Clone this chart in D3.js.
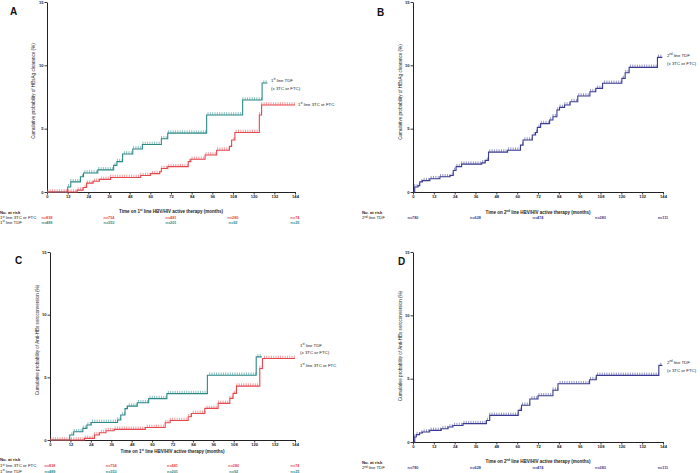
<!DOCTYPE html>
<html>
<head>
<meta charset="utf-8">
<script src="https://cdn.jsdelivr.net/npm/d3@7"></script>
<style>
body { margin: 0; background: #fff; }
svg { display: block; font-family: "Liberation Sans", Arial, sans-serif; }
</style>
</head>
<body>
<svg id="chart" width="700" height="473"></svg>
<script>
// axis ticks and number-at-risk columns
const monthTicks = [0, 12, 24, 36, 48, 60, 72, 84, 96, 108, 120, 132, 144];
const pctTicks = [0, 5, 10, 15];
const riskMonths = [0, 36, 72, 108, 144];

// A: HBsAg clearance, 1st line
const aTdfT = [0, 12, 13.8, 19.4, 21.2, 29.5, 38.7, 40.6, 43.9, 49.8, 55.4, 66.4, 70.1, 92.7, 113.6, 124.9, 128];
const aTdfP = [0, 0.4, 0.8, 1.2, 1.5, 1.75, 2.1, 2.4, 3.0, 3.4, 3.75, 4.2, 4.65, 6.08, 7.26, 8.6, 8.6];
const a3tcT = [0, 17.5, 21, 23, 26.8, 30.4, 36.9, 54.4, 60, 65.5, 66.4, 70.1, 82, 83.5, 91.8, 98.5, 105.9, 107.2, 109.1, 123.3, 124.6, 144];
const a3tcP = [0, 0.15, 0.35, 0.7, 0.85, 1.0, 1.15, 1.3, 1.45, 1.6, 1.85, 2.0, 2.4, 2.58, 2.92, 3.3, 3.6, 4.1, 4.7, 6.08, 6.87, 6.87];

// B: HBsAg clearance, 2nd line TDF
const bTdfT = [0, 1, 2.9, 3.9, 5.4, 9.7, 15.5, 21.3, 23.2, 24.8, 28, 39.6, 41.6, 43.5, 54.5, 61.9, 63.4, 68.7, 70.6, 71.6, 73.5, 78.7, 80.6, 82.9, 84.4, 87.3, 90.5, 94.9, 101.9, 105.3, 109.2, 120.3, 122.2, 124.5, 140.8, 143.6];
const bTdfP = [0, 0.4, 0.5, 0.8, 0.9, 1.05, 1.2, 1.3, 1.7, 2.0, 2.2, 2.3, 2.5, 3.15, 3.3, 3.7, 4.1, 4.5, 4.7, 5.1, 5.4, 5.68, 5.94, 6.47, 6.68, 6.87, 7.13, 7.58, 7.92, 8.18, 8.58, 8.97, 9.42, 9.84, 10.63, 10.63];

// C: anti-HBs seroconversion, 1st line
const cTdfT = [0, 11.6, 13.9, 19.3, 21.7, 24.2, 39.7, 41.6, 44.1, 45.5, 51.3, 58, 68.7, 92.5, 121.2, 124.5];
const cTdfP = [0, 0.4, 0.66, 0.93, 1.2, 1.4, 1.6, 2.0, 2.5, 2.7, 2.97, 3.3, 3.7, 5.17, 6.63, 6.63];
const c3tcT = [0, 20.3, 26.1, 29, 32.9, 37.7, 56, 67.7, 70.6, 81.2, 83.1, 91, 98.8, 105.7, 107.6, 109.6, 123.3, 124.9, 144];
const c3tcP = [0, 0.13, 0.4, 0.58, 0.74, 0.85, 1.0, 1.38, 1.55, 1.86, 2.12, 2.52, 2.92, 3.32, 3.72, 4.3, 5.7, 6.5, 6.5];

// D: anti-HBs seroconversion, 2nd line TDF
const dTdfT = [0, 1, 1.9, 3.8, 5.4, 9.6, 16.3, 20.2, 23, 28.8, 42.3, 44.2, 60.6, 62.5, 67.3, 72, 80.6, 83.5, 101.7, 105.6, 141.6, 143.6];
const dTdfP = [0, 0.39, 0.58, 0.71, 0.79, 0.92, 1.05, 1.18, 1.3, 1.45, 1.7, 2.1, 2.5, 2.9, 3.4, 3.65, 4.08, 4.6, 4.92, 5.26, 6.05, 6.05];

// censored spans (months) where tick marks sit along each curve
const aTdfCens = [[12.5, 128]];
const a3tcCens = [[0.5, 144]];
const bTdfCens = [[1, 143.6]];
const cTdfCens = [[11.5, 124.5]];
const c3tcCens = [[0.5, 144]];
const dTdfCens = [[1, 143.6]];
const censGap = 1.35;

// number at risk
const riskA3tc = ["n=838", "n=754", "n=481", "n=280", "n=74"];
const riskATdf = ["n=489", "n=353", "n=201", "n=92", "n=25"];
const riskB = ["n=780", "n=628", "n=474", "n=283", "n=111"];
const riskC3tc = ["n=838", "n=754", "n=481", "n=280", "n=74"];
const riskCTdf = ["n=489", "n=353", "n=201", "n=92", "n=25"];
const riskD = ["n=780", "n=628", "n=474", "n=283", "n=111"];

const RED = "#e8474e", TEAL = "#2b8a87", NAVY = "#3b3b94", INK = "#222";

const panels = [
    {
        letter: "A", lx: 10, ly: 15,
        left: 47, right: 295, top: 2, bottom: 192,
        yTitle: "Cumulative probability of HBsAg clearance (%)", ytx: 33, yty: 91,
        xTitle: "Time on 1{st} line HBV/HIV active therapy (months)", xty: 211,
        series: [
            {t: aTdfT, p: aTdfP, cens: aTdfCens, color: TEAL, label: ["1{st} line TDF", "(± 3TC or FTC)"], lbx: 271, lby: [80, 88]},
            {t: a3tcT, p: a3tcP, cens: a3tcCens, color: RED, label: ["1{st} line 3TC or FTC"], lbx: 298, lby: [104]}
        ],
        riskX: 0, riskHead: 212.7,
        risk: [
            {name: "1{st} line 3TC or FTC", n: riskA3tc, color: RED, y: 217.7},
            {name: "1{st} line TDF", n: riskATdf, color: TEAL, y: 222.3}
        ]
    },
    {
        letter: "B", lx: 377, ly: 16,
        left: 413, right: 663, top: 2, bottom: 192,
        yTitle: "Cumulative probability of HBsAg clearance (%)", ytx: 400, yty: 92,
        xTitle: "Time on 2{nd} line HBV/HIV active therapy (months)", xty: 212.3,
        series: [
            {t: bTdfT, p: bTdfP, cens: bTdfCens, color: NAVY, label: ["2{nd} line TDF", "(± 3TC or FTC)"], lbx: 667, lby: [55, 63]}
        ],
        riskX: 362, riskHead: 212.3,
        risk: [
            {name: "2{nd} line TDF", n: riskB, color: NAVY, y: 217.7}
        ]
    },
    {
        letter: "C", lx: 15, ly: 264,
        left: 50, right: 295, top: 252, bottom: 440,
        yTitle: "Cumulative probability of Anti-HBs seroconversion (%)", ytx: 37, yty: 340,
        xTitle: "Time on 1{st} line HBV/HIV active therapy (months)", xty: 451,
        series: [
            {t: cTdfT, p: cTdfP, cens: cTdfCens, color: TEAL, label: ["1{st} line TDF", "(± 3TC or FTC)"], lbx: 300, lby: [345, 352]},
            {t: c3tcT, p: c3tcP, cens: c3tcCens, color: RED, label: ["1{st} line 3TC or FTC"], lbx: 300, lby: [365]}
        ],
        riskX: 0, riskHead: 459,
        risk: [
            {name: "1{st} line 3TC or FTC", n: riskC3tc, color: RED, y: 465.7},
            {name: "1{st} line TDF", n: riskCTdf, color: TEAL, y: 471}
        ]
    },
    {
        letter: "D", lx: 398, ly: 265,
        left: 413, right: 663, top: 252, bottom: 442,
        yTitle: "Cumulative probability of Anti-HBs seroconversion (%)", ytx: 400, yty: 346,
        xTitle: "Time on 2{nd} line HBV/HIV active therapy (months)", xty: 461,
        series: [
            {t: dTdfT, p: dTdfP, cens: dTdfCens, color: NAVY, label: ["2{nd} line TDF", "(± 3TC or FTC)"], lbx: 667, lby: [362, 370]}
        ],
        riskX: 362, riskHead: 462,
        risk: [
            {name: "2{nd} line TDF", n: riskD, color: NAVY, y: 467.7}
        ]
    }
];

const svg = d3.select("#chart");

// "1{st} line" -> text with superscript
function richText(sel, str, fs) {
    const parts = str.split(/(\{[^}]*\})/).filter(s => s.length);
    let raised = false;
    parts.forEach(s => {
        const sup = s.startsWith("{");
        const ts = sel.append("tspan").text(sup ? s.slice(1, -1) : s);
        if (sup) {
            ts.attr("font-size", fs * 0.65).attr("dy", -fs * 0.38);
            raised = true;
        } else if (raised) {
            ts.attr("dy", fs * 0.38);
            raised = false;
        }
    });
    return sel;
}

function valueAt(ts, ps, m) {
    let v = ps[0];
    for (let i = 0; i < ts.length; i++) {
        if (ts[i] <= m) v = ps[i];
    }
    return v;
}

function drawPanel(cfg) {
    const g = svg.append("g");

    const x = d3.scaleLinear().domain([0, 144]).range([cfg.left, cfg.right]);
    const y = d3.scaleLinear().domain([0, 15]).range([cfg.bottom, cfg.top]);

    // axes
    const xAxis = g.append("g")
        .attr("transform", `translate(0,${cfg.bottom})`)
        .call(d3.axisBottom(x).tickValues(monthTicks).tickSize(2.5).tickSizeOuter(0).tickPadding(1));
    const yAxis = g.append("g")
        .attr("transform", `translate(${cfg.left},0)`)
        .call(d3.axisLeft(y).tickValues(pctTicks).tickSize(2.5).tickSizeOuter(0).tickPadding(1));

    [xAxis, yAxis].forEach(a => {
        a.select(".domain").attr("stroke", INK).attr("stroke-width", 1);
        a.selectAll(".tick line").attr("stroke", INK).attr("stroke-width", 0.9);
        a.selectAll(".tick text")
            .attr("fill", INK)
            .style("font-size", "4.1px")
            .style("font-weight", "bold")
            .style("font-family", "'Liberation Sans', Arial, sans-serif");
    });

    // curves
    const line = d3.line()
        .x(d => x(d[0]))
        .y(d => y(d[1]))
        .curve(d3.curveStepAfter);

    cfg.series.forEach(s => {
        const pts = s.t.map((t, i) => [t, s.p[i]]);
        g.append("path")
            .datum(pts)
            .attr("fill", "none")
            .attr("stroke", s.color)
            .attr("stroke-width", 1.1)
            .attr("d", line);

        // censoring ticks
        const marks = [];
        s.cens.forEach(([a, b]) => {
            for (let m = a; m <= b; m += censGap) marks.push(m);
        });
        g.selectAll(null)
            .data(marks)
            .enter()
            .append("line")
            .attr("x1", d => x(d))
            .attr("x2", d => x(d))
            .attr("y1", d => y(valueAt(s.t, s.p, d)))
            .attr("y2", d => y(valueAt(s.t, s.p, d)) - 2.8)
            .attr("stroke", s.color)
            .attr("stroke-width", 0.6)
            .attr("stroke-opacity", 0.9);

        // curve labels
        s.label.forEach((txt, i) => {
            richText(g.append("text")
                .attr("x", s.lbx)
                .attr("y", s.lby[i] + 1.5)
                .attr("font-size", 4.3)
                .attr("fill", INK), txt, 4.3);
        });
    });

    // panel letter
    g.append("text")
        .attr("x", cfg.lx)
        .attr("y", cfg.ly)
        .attr("font-size", 10)
        .attr("font-weight", "bold")
        .attr("fill", "#111")
        .text(cfg.letter);

    // axis titles
    g.append("text")
        .attr("transform", `translate(${cfg.ytx},${cfg.yty}) rotate(-90)`)
        .attr("text-anchor", "middle")
        .attr("dy", "0.35em")
        .attr("font-size", 4.6)
        .attr("fill", INK)
        .text(cfg.yTitle);

    richText(g.append("text")
        .attr("x", (cfg.left + cfg.right) / 2)
        .attr("y", cfg.xty + 1.6)
        .attr("text-anchor", "middle")
        .attr("font-size", 4.5)
        .attr("font-weight", "bold")
        .attr("fill", INK), cfg.xTitle, 4.5);

    // number at risk table
    g.append("text")
        .attr("x", cfg.riskX)
        .attr("y", cfg.riskHead + 1.5)
        .attr("font-size", 4.2)
        .attr("font-weight", "bold")
        .attr("fill", INK)
        .text("No. at risk");

    cfg.risk.forEach(r => {
        richText(g.append("text")
            .attr("x", cfg.riskX)
            .attr("y", r.y + 1.5)
            .attr("font-size", 4.3)
            .attr("fill", INK), r.name, 4.3);

        g.selectAll(null)
            .data(riskMonths)
            .enter()
            .append("text")
            .attr("x", d => x(d))
            .attr("y", r.y + 1.5)
            .attr("text-anchor", "middle")
            .attr("font-size", 3.8)
            .attr("font-weight", "bold")
            .attr("fill", r.color)
            .text((d, i) => r.n[i]);
    });
}

panels.forEach(drawPanel);
</script>
</body>
</html>
